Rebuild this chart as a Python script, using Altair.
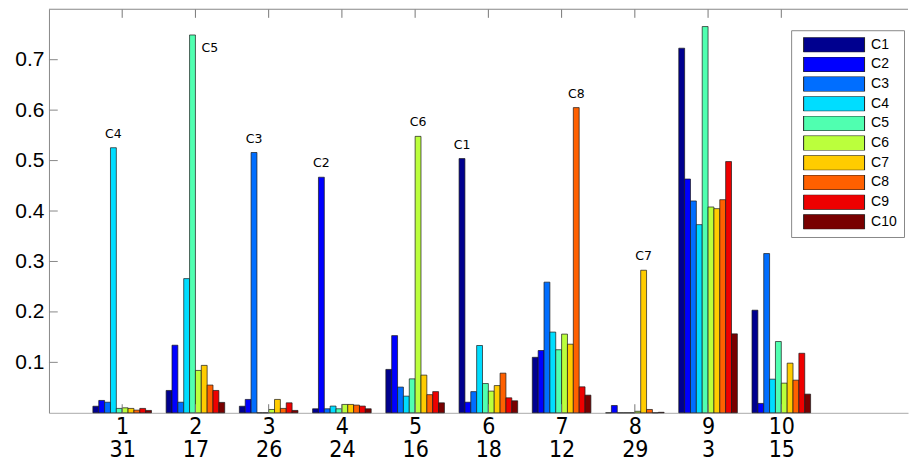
import json
import altair as alt
import pandas as pd

# ---------------- data ----------------
groups = [1, 2, 3, 4, 5, 6, 7, 8, 9, 10]
group_sublabels = ["31", "17", "26", "24", "16", "18", "12", "29", "3", "15"]
series = ["C1", "C2", "C3", "C4", "C5", "C6", "C7", "C8", "C9", "C10"]
colors = ["#00008F", "#0000FF", "#006EFF", "#00DDFF", "#50FFB0",
          "#BBFF3C", "#FFCC00", "#FF6000", "#EE0000", "#780000"]

g1 = [0.013, 0.0245, 0.021, 0.5255, 0.0087, 0.0099, 0.0087, 0.0053, 0.0087, 0.0047]
g2 = [0.0443, 0.134, 0.021, 0.266, 0.749, 0.084, 0.094, 0.055, 0.0443, 0.0206]
g3 = [0.013, 0.0265, 0.516, 0.0, 0.0, 0.0066, 0.0265, 0.0087, 0.0198, 0.0047]
g4 = [0.008, 0.467, 0.008, 0.0133, 0.008, 0.0166, 0.0166, 0.0153, 0.0133, 0.008]
g5 = [0.086, 0.153, 0.051, 0.033, 0.0673, 0.548, 0.0747, 0.036, 0.042, 0.0198]
g6 = [0.504, 0.021, 0.042, 0.1334, 0.058, 0.043, 0.054, 0.0786, 0.0297, 0.0238]
g7 = [0.110, 0.1235, 0.259, 0.160, 0.125, 0.156, 0.136, 0.605, 0.0515, 0.035]
g8 = [0.0, 0.0145, 0.0, 0.0, 0.0, 0.003, 0.2826, 0.0066, 0.0, 0.001]
g9 = [0.7228, 0.4634, 0.42, 0.373, 0.7657, 0.408, 0.4047, 0.4225, 0.498, 0.1565]
g10 = [0.2034, 0.0186, 0.3157, 0.0667, 0.1413, 0.0588, 0.0984, 0.0647, 0.118, 0.037]
group_values = [g1, g2, g3, g4, g5, g6, g7, g8, g9, g10]

ann_groups = [1, 2, 3, 4, 5, 6, 7, 8]
ann_labels = ["C4", "C5", "C3", "C2", "C6", "C1", "C8", "C7"]
side_label_group = 2  # this annotation sits beside its bar

y_ticks = [0.1, 0.2, 0.3, 0.4, 0.5, 0.6, 0.7]

# ---------------- tables ----------------
rows = []
for g, vals in zip(groups, group_values):
    for i, (s, v) in enumerate(zip(series, vals)):
        rows.append({"group": g, "idx": i, "series": s, "value": v})
df = pd.DataFrame(rows)

ann_rows = []
for g, lab in zip(ann_groups, ann_labels):
    i = series.index(lab)
    ann_rows.append({"group": g, "idx": i, "label": lab,
                     "value": group_values[g - 1][i],
                     "side": g == side_label_group})
ann = pd.DataFrame(ann_rows)

XMAX = 11.73
YMAX = 0.8
xs = alt.Scale(domain=[0, XMAX], nice=False, zero=False)
ys = alt.Scale(domain=[0, YMAX], nice=False)

label_expr = ("[format(datum.value, 'd'), " + json.dumps(group_sublabels)
              + "[datum.value - 1]]")

x_axis = alt.Axis(values=groups, tickSize=0, labelExpr=label_expr,
                  labelFontSize=23,
                  labelFont="Liberation Sans Narrow, DejaVu Sans Condensed, Liberation Sans",
                  labelLineHeight=23, labelPadding=3, labelFlush=False,
                  labelOverlap=False, labelColor="black", domainColor="#aaaaaa",
                  grid=False, title=None)
y_axis = alt.Axis(values=y_ticks, format=".1f", tickSize=0, labelFontSize=21,
                  labelFont="Liberation Sans", labelColor="black",
                  domainColor="#888888", grid=False, title=None,
                  minExtent=36, maxExtent=36, labelPadding=5)

legend = alt.Legend(
    title=None, orient="none", legendX=743, legendY=21,
    fillColor="white", strokeColor="#888888", padding=7,
    symbolType="M-1,-0.246L1,-0.246L1,0.246L-1,0.246Z", symbolSize=3721,
    symbolStrokeColor="#222222", symbolStrokeWidth=1, symbolOffset=5,
    clipHeight=15,
    labelOffset=6, rowPadding=4.7, labelFont="Liberation Sans",
    labelFontSize=14, labelColor="black",
)

base = alt.Chart(df).transform_calculate(
    x1="datum.group + (datum.idx - 5) * 0.08",
    x2="datum.group + (datum.idx - 4) * 0.08",
)

bars = base.mark_rect(stroke="#1a1a1a", strokeWidth=0.7).encode(
    x=alt.X("x1:Q", scale=xs, axis=x_axis),
    x2="x2:Q",
    y=alt.Y("value:Q", scale=ys, axis=y_axis),
    y2=alt.datum(0),
    color=alt.Color("series:N", scale=alt.Scale(domain=series, range=colors),
                    legend=legend),
)

ytick_df = pd.DataFrame({"t": y_ticks})
ytick_rules = alt.Chart(ytick_df).mark_rule(color="#888888", strokeWidth=1).encode(
    y=alt.Y("t:Q", scale=ys), x=alt.datum(0), x2=alt.datum(0.12))

gdf = pd.DataFrame({"g": groups})
xtick_bottom = alt.Chart(gdf).mark_rule(color="#777777", strokeWidth=1).encode(
    x=alt.X("g:Q", scale=xs), y=alt.datum(0), y2=alt.datum(0.017))
xtick_top = alt.Chart(gdf).mark_rule(color="#777777", strokeWidth=1).encode(
    x=alt.X("g:Q", scale=xs), y=alt.datum(YMAX), y2=alt.datum(YMAX - 0.017))

top_border = alt.Chart(pd.DataFrame({"t": [YMAX]})).mark_rule(
    color="#888888", strokeWidth=1).encode(y=alt.Y("t:Q", scale=ys))

ann_base = alt.Chart(ann).transform_calculate(
    xc="datum.group + (datum.idx - 4.5) * 0.08")

ann_top = ann_base.transform_filter("!datum.side").mark_text(
    font="DejaVu Sans", fontSize=12.5, color="black",
    baseline="alphabetic", dy=-10).encode(
    x=alt.X("xc:Q", scale=xs), y=alt.Y("value:Q", scale=ys), text="label:N")

ann_side = ann_base.transform_filter("datum.side").mark_text(
    font="DejaVu Sans", fontSize=12.5, color="black",
    baseline="middle", align="left", dx=9, dy=13).encode(
    x=alt.X("xc:Q", scale=xs), y=alt.Y("value:Q", scale=ys), text="label:N")

chart = alt.layer(
    bars, ytick_rules, xtick_bottom, xtick_top, top_border, ann_top, ann_side
).properties(
    width=860, height=404,
    padding={"left": 5, "top": 0, "right": 0, "bottom": 0},
).configure_view(stroke=None)

chart.save("out.html", embed_options={"renderer": "svg", "actions": False})
